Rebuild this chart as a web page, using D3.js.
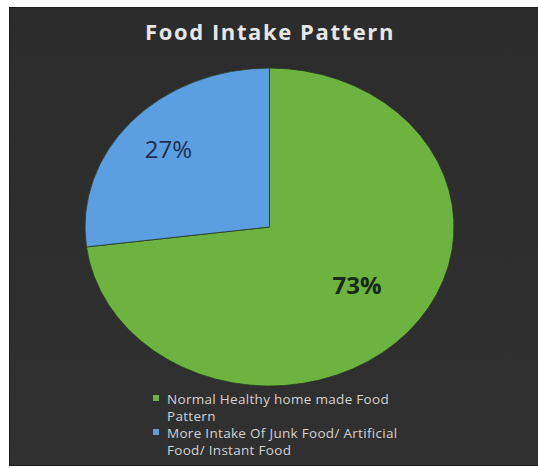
<!DOCTYPE html>
<html>
<head>
<meta charset="utf-8">
<script src="https://cdn.jsdelivr.net/npm/d3@7"></script>
<style>
  html, body { margin: 0; padding: 0; background: #ffffff; }
  svg { display: block; }
</style>
</head>
<body>
<svg id="chart" width="538" height="468"></svg>
<script>
// Survey share of eating habits
const categories = [
  "Normal Healthy home made Food Pattern",
  "More Intake Of Junk Food/ Artificial Food/ Instant Food"
];
const values = [73, 27];
const sliceColors = ["#6cb33f", "#5b9fe0"];
const legendLines = [
  ["Normal Healthy home made Food", "Pattern"],
  ["More Intake Of Junk Food/ Artificial", "Food/ Instant Food"]
];
const title = "Food Intake Pattern";

const svg = d3.select("#chart");
const W = 538, H = 468;

// dark chart panel
const defs = svg.append("defs");
const bg = defs.append("linearGradient").attr("id", "bg").attr("x1", 0).attr("y1", 0).attr("x2", 0).attr("y2", 1);
bg.append("stop").attr("offset", "0%").attr("stop-color", "#2c2c2c");
bg.append("stop").attr("offset", "100%").attr("stop-color", "#303030");
svg.append("rect").attr("x", 9).attr("y", 7).attr("width", W - 9).attr("height", 459)
  .attr("fill", "url(#bg)");
svg.append("rect").attr("x", 9.5).attr("y", 7.5).attr("width", W - 9).attr("height", 458)
  .attr("fill", "none").attr("stroke", "#1e1e1e").attr("stroke-width", 1);

// title
svg.append("text")
  .attr("x", 270).attr("y", 40)
  .attr("text-anchor", "middle")
  .attr("font-family", "'Open Sans', sans-serif")
  .attr("font-weight", 700)
  .attr("font-size", 22)
  .attr("letter-spacing", 1.6)
  .attr("fill", "#e6e6e6")
  .text(title);

// pie, stretched horizontally into an ellipse
const cx = 269.5, cy = 227, rx = 184.5, ry = 159;
const pie = d3.pie().sort(null).value(d => d)
  .startAngle(0).endAngle(2 * Math.PI);
const arcs = pie(values);
const arc = d3.arc().innerRadius(0).outerRadius(ry);

const g = svg.append("g")
  .attr("transform", `translate(${cx},${cy}) scale(${rx / ry},1)`);

g.selectAll("path.slice")
  .data(arcs)
  .join("path")
  .attr("class", "slice")
  .attr("d", arc)
  .attr("fill", (d, i) => sliceColors[i])
  .attr("stroke", "#2a3a22")
  .attr("stroke-width", 0.8)
  .attr("vector-effect", "non-scaling-stroke");

// percentage labels (the big slice's label sits a little right of its bisector)
const labelRadius = [0.56, 0.73];
const labelShift = [10, 0];
const labelColors = ["#1b2a14", "#1d2f52"];
const labelWeights = [700, 500];
arcs.forEach((d, i) => {
  const la = d3.arc().innerRadius(ry * labelRadius[i]).outerRadius(ry * labelRadius[i]);
  const [lx, ly] = la.centroid(d);
  svg.append("text")
    .attr("x", cx + lx * rx / ry + labelShift[i])
    .attr("y", cy + ly + 8)
    .attr("text-anchor", "middle")
    .attr("font-family", "'Open Sans', sans-serif")
    .attr("font-weight", labelWeights[i])
    .attr("font-size", 24)
    .attr("fill", labelColors[i])
    .text(d3.format(".0f")(d.data) + "%");
});

// legend
const legend = svg.append("g").attr("transform", "translate(153,395)");
const rowY = [0, 34];
categories.forEach((c, i) => {
  const row = legend.append("g").attr("transform", `translate(0,${rowY[i]})`);
  row.append("rect").attr("x", 0).attr("y", 0).attr("width", 6).attr("height", 6)
    .attr("fill", sliceColors[i]);
  const t = row.append("text")
    .attr("font-family", "'Open Sans', sans-serif")
    .attr("font-size", 13.5)
    .attr("letter-spacing", 0.3)
    .attr("fill", "#d2d2d2");
  legendLines[i].forEach((line, j) => {
    t.append("tspan").attr("x", 14).attr("y", 9 + j * 17).text(line);
  });
});
</script>
</body>
</html>
